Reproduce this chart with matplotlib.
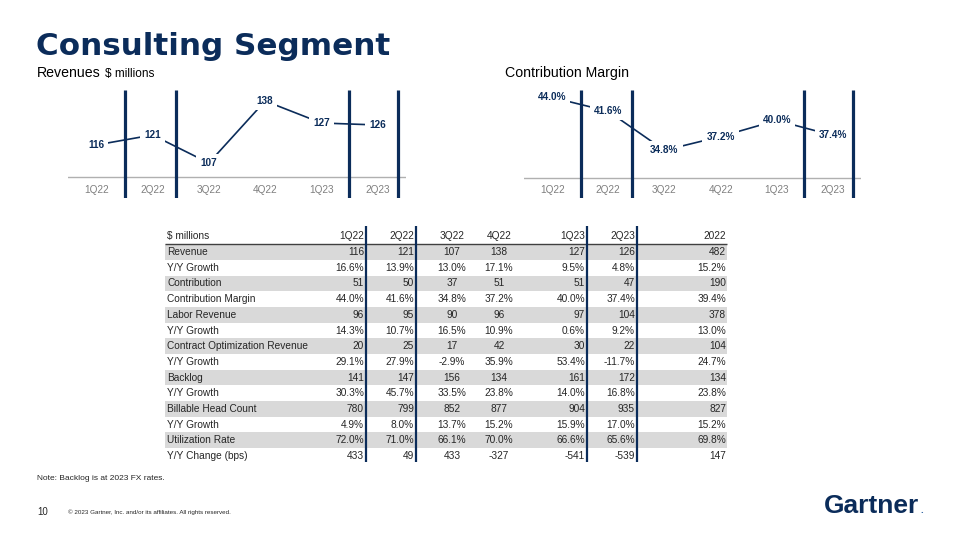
import matplotlib
matplotlib.use("Agg")
import matplotlib.pyplot as plt

# ---------------- data ----------------
quarters = ['1Q22', '2Q22', '3Q22', '4Q22', '1Q23', '2Q23']
revenue = [116, 121, 107, 138, 127, 126]
margin = [44.0, 41.6, 34.8, 37.2, 40.0, 37.4]

table_cols = ['$ millions', '1Q22', '2Q22', '3Q22', '4Q22', '1Q23', '2Q23', '2022']
row_labels = ['Revenue', 'Y/Y Growth', 'Contribution', 'Contribution Margin',
              'Labor Revenue', 'Y/Y Growth', 'Contract Optimization Revenue',
              'Y/Y Growth', 'Backlog', 'Y/Y Growth', 'Billable Head Count',
              'Y/Y Growth', 'Utilization Rate', 'Y/Y Change (bps)']
row_values = [
    ['116', '121', '107', '138', '127', '126', '482'],
    ['16.6%', '13.9%', '13.0%', '17.1%', '9.5%', '4.8%', '15.2%'],
    ['51', '50', '37', '51', '51', '47', '190'],
    ['44.0%', '41.6%', '34.8%', '37.2%', '40.0%', '37.4%', '39.4%'],
    ['96', '95', '90', '96', '97', '104', '378'],
    ['14.3%', '10.7%', '16.5%', '10.9%', '0.6%', '9.2%', '13.0%'],
    ['20', '25', '17', '42', '30', '22', '104'],
    ['29.1%', '27.9%', '-2.9%', '35.9%', '53.4%', '-11.7%', '24.7%'],
    ['141', '147', '156', '134', '161', '172', '134'],
    ['30.3%', '45.7%', '33.5%', '23.8%', '14.0%', '16.8%', '23.8%'],
    ['780', '799', '852', '877', '904', '935', '827'],
    ['4.9%', '8.0%', '13.7%', '15.2%', '15.9%', '17.0%', '15.2%'],
    ['72.0%', '71.0%', '66.1%', '70.0%', '66.6%', '65.6%', '69.8%'],
    ['433', '49', '433', '-327', '-541', '-539', '147'],
]

# ---------------- style ----------------
NAVY = '#0b2c5a'
GREY_TXT = '#7f7f7f'
BAND = '#d9d9d9'
TXT = '#262626'
plt.rcParams['font.family'] = ['Liberation Sans', 'DejaVu Sans']

W, H = 960, 540
fig = plt.figure(figsize=(9.6, 5.4), dpi=100)


def rect(x0, y0, x1, y1):
    # pixel box -> figure fraction
    return [x0 / W, 1 - y1 / H, (x1 - x0) / W, (y1 - y0) / H]


# --- title / headers ---
fig.text(36 / W, 1 - 55 / H, 'Consulting Segment', family='DejaVu Sans',
         weight='bold', fontsize=22.3, color=NAVY, va='baseline')
t1 = fig.text(37 / W, 1 - 77 / H, 'Revenues', fontsize=10.2, color='black', va='baseline')
fig.canvas.draw()
bb = t1.get_window_extent()
fig.text((bb.x1 + 4) / W, 1 - 77 / H, '$ millions', fontsize=8.5, color='black', va='baseline')
fig.text(505 / W, 1 - 77 / H, 'Contribution Margin', fontsize=10.2, color='black', va='baseline')


def line_chart(ax, vals, ylo, yhi, base, lab_y, fmt, bars):
    x = list(range(len(vals)))
    ax.set_xlim(-0.5, len(vals) - 0.5)
    ax.set_ylim(ylo, yhi)
    ax.axis('off')
    ax.axhline(base, color='#b0b0b0', lw=1.0, zorder=1)
    ax.vlines(bars, ylo, yhi, color=NAVY, lw=2.3, zorder=2)
    ax.plot(x, vals, color=NAVY, lw=1.2, zorder=3)
    for xi, v in zip(x, vals):
        ax.text(xi, v, fmt(v), ha='center', va='center', fontsize=7.2, weight='bold',
                color=NAVY, zorder=4,
                bbox=dict(boxstyle='square,pad=0.4', fc='white', ec='none'))
    for xi, q in zip(x, quarters):
        ax.text(xi, lab_y, q, ha='center', va='center', fontsize=7.2, color=GREY_TXT)


bar_pos = [0.52, 1.42, 4.48, 5.36]

ax1 = fig.add_axes(rect(68, 90, 406, 198))
line_chart(ax1, revenue, 89.5, 143.5, 100, 93.5, lambda v: f'{v}', bar_pos)

ax2 = fig.add_axes(rect(524, 90, 861, 198))
line_chart(ax2, margin, 26.5, 45.3, 30, 27.9, lambda v: f'{v:.1f}%', bar_pos)

# ---------------- table ----------------
axt = fig.add_axes(rect(163, 226, 729, 462))
axt.set_xlim(163, 729)
axt.set_ylim(14.38, -0.66)
axt.axis('off')

n = len(row_labels)
rows = list(range(1, n + 1))
band_rows = [r for r in rows if r % 2 == 1]
axt.barh(band_rows, [562] * len(band_rows), left=165, height=1.0, color=BAND, zorder=0)
axt.hlines(0.5, 165, 727, color='#404040', lw=1.0, zorder=1)
axt.vlines([366, 416, 587, 637], -0.66, 14.38, color=NAVY, lw=1.6, zorder=3)

# column anchors (x, ha)
col_pos = [(167, 'left'), (364, 'right'), (414, 'right'), (452, 'center'),
           (499, 'center'), (585, 'right'), (635, 'right'), (726, 'right')]

FS = 7.3
for (cx, ha), name in zip(col_pos, table_cols):
    axt.text(cx, 0, name, ha=ha, va='center', fontsize=FS, color=TXT, zorder=2)
for r, lab, vals in zip(rows, row_labels, row_values):
    axt.text(col_pos[0][0], r, lab, ha='left', va='center', fontsize=FS, color=TXT, zorder=2)
    for (cx, ha), v in zip(col_pos[1:], vals):
        axt.text(cx, r, v, ha=ha, va='center', fontsize=FS, color=TXT, zorder=2)

# ---------------- footer ----------------
fig.text(37 / W, 1 - 478 / H, 'Note: Backlog is at 2023 FX rates.', fontsize=6,
         color=TXT, va='center')
fig.text(37 / W, 1 - 512 / H, '10', fontsize=7, color=TXT, va='center')
fig.text(68 / W, 1 - 512 / H,
         '\u00a9 2023 Gartner, Inc. and/or its affiliates. All rights reserved.',
         fontsize=4.5, color=TXT, va='center')
fig.text(824 / W, 1 - 513 / H, 'Gartner', fontsize=19, weight='bold', color=NAVY,
         va='baseline')
fig.text(920 / W, 1 - 513 / H, '.', fontsize=7, weight='bold', color='#3d6da8',
         va='baseline')

fig.savefig('out.png', dpi=100)
